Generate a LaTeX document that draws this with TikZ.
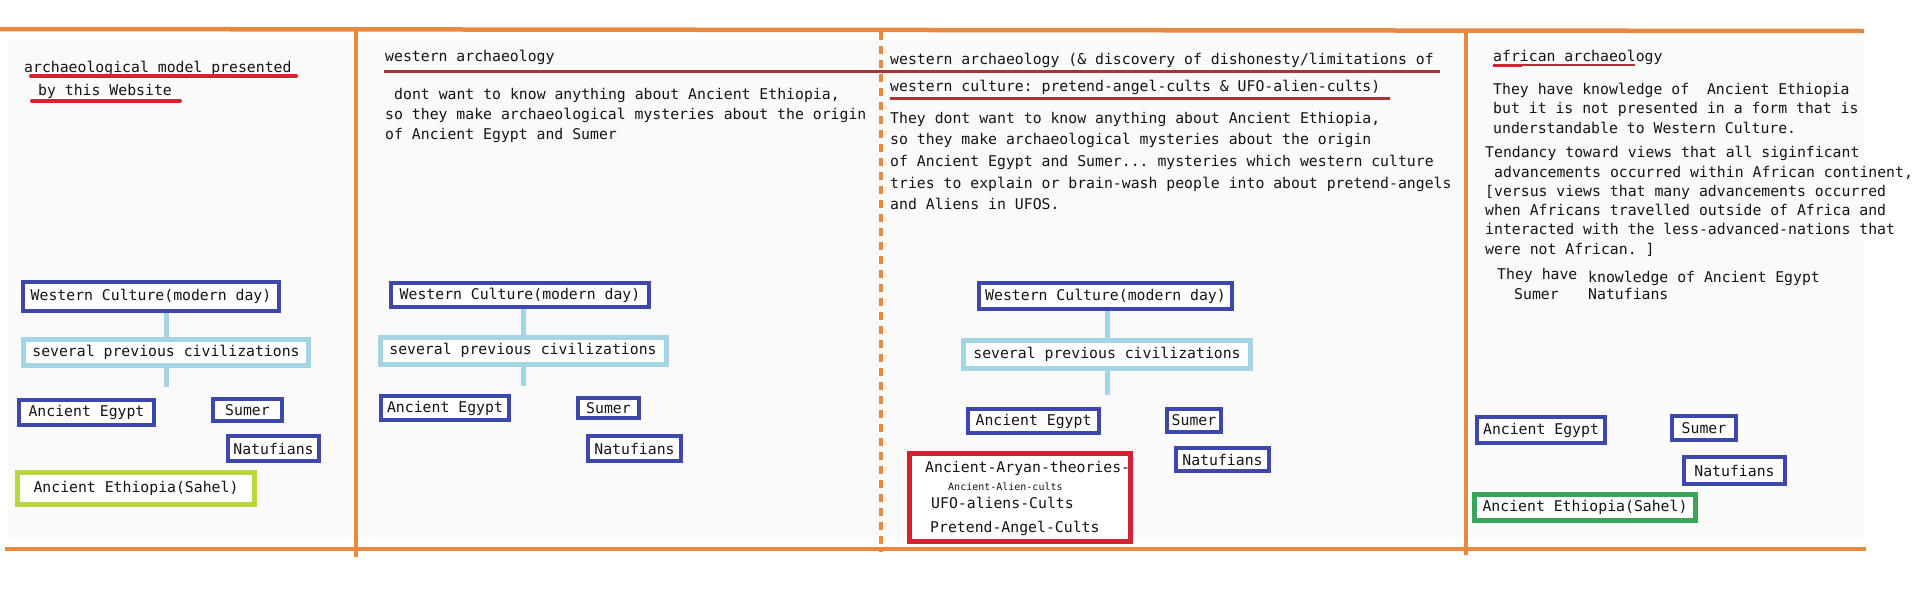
\documentclass[tikz,border=0pt]{standalone}
\usepackage{fontspec}
\setmonofont{DejaVu Sans Mono}
\newcommand\mtxt{\ttfamily\fontsize{14.8}{20}\selectfont}
\newcommand\mtiny{\ttfamily\fontsize{10}{12}\selectfont}
\definecolor{framec}{RGB}{232,137,64}
\definecolor{bluec}{RGB}{62,72,170}
\definecolor{lightb}{RGB}{165,213,229}
\definecolor{limec}{RGB}{182,216,62}
\definecolor{greenc}{RGB}{58,165,90}
\definecolor{redc}{RGB}{214,34,46}
\definecolor{darkred}{RGB}{170,50,55}
\definecolor{ink}{RGB}{20,20,20}
\definecolor{panel}{RGB}{250,250,250}
\tikzset{
  txt/.style={anchor=base west, inner sep=0pt, font=\mtxt, text=ink},
  tinytxt/.style={anchor=base west, inner sep=0pt, font=\mtiny, text=ink},
  box/.style={draw, line width=4pt, inner sep=0pt, font=\mtxt, text=ink, fill=white},
  bbox/.style={box, draw=bluec},
  lbbox/.style={box, draw=lightb, line width=5pt},
  limebox/.style={box, draw=limec, line width=5pt},
  greenbox/.style={box, draw=greenc, line width=5pt},
  redbox/.style={box, draw=redc, line width=5pt},
  conn/.style={draw=lightb, line width=5pt},
  frameline/.style={draw=framec, line width=4.5pt},
  uline/.style={draw=redc, line width=4pt, line cap=round},
  thinuline/.style={draw=darkred, line width=3pt},
}
\begin{document}
\begin{tikzpicture}[x=1pt,y=-1pt]
\useasboundingbox (0,0) rectangle (1919,595);
\fill[white] (0,0) rectangle (1919,595);
\fill[panel] (8,40) rectangle (1864,540);

% frame
\draw[frameline] (0,29) -- (1864,31);
\draw[frameline] (5,549) -- (1866,549);
\draw[frameline] (356,29) -- (356,557);
\draw[draw=framec, line width=3.5pt, dash pattern=on 8pt off 6pt] (881,32) -- (881,552);
\draw[frameline] (1466,31) -- (1466,555);

% ---------- column 1 ----------
\node[txt] (t1a) at (24,72) {archaeological model presented};
\node[txt] (t1b) at (38,95) {by this Website};
\draw[uline] (31,76) -- (296,76);
\draw[uline] (32,101) -- (180,101);

\node[bbox, minimum width=256, minimum height=29] (wc1) at (151,296.5) {Western Culture(modern day)};
\node[lbbox, minimum width=285, minimum height=26] (sev1) at (166,352) {several previous civilizations};
\node[bbox, minimum width=135, minimum height=25] (eg1) at (86.5,412.5) {Ancient Egypt};
\node[bbox, minimum width=69, minimum height=22] (su1) at (247.5,410) {Sumer};
\node[bbox, minimum width=91, minimum height=25] (na1) at (273.5,448.5) {Natufians};
\node[limebox, minimum width=237, minimum height=32] (et1) at (136,488.5) {Ancient Ethiopia(Sahel)};
\coordinate (st1) at (166,387);
\draw[conn] (sev1.north) -- (sev1.north |- wc1.south);
\draw[conn] (sev1.south) -- (st1);

% ---------- column 2 ----------
\node[txt] (h2) at (385,61) {western archaeology};
\draw[thinuline] (384,71) -- (1440,71);
\node[txt] (b2a) at (394,99) {dont want to know anything about Ancient Ethiopia,};
\node[txt] (b2b) at (385,119) {so they make archaeological mysteries about the origin};
\node[txt] (b2c) at (385,139) {of Ancient Egypt and Sumer};

\node[bbox, minimum width=258, minimum height=24] (wc2) at (520,295) {Western Culture(modern day)};
\node[lbbox, minimum width=286, minimum height=27] (sev2) at (523,350.5) {several previous civilizations};
\node[bbox, minimum width=128, minimum height=24] (eg2) at (445,408) {Ancient Egypt};
\node[bbox, minimum width=61, minimum height=20] (su2) at (608.5,408) {Sumer};
\node[bbox, minimum width=93, minimum height=25] (na2) at (634.5,448.5) {Natufians};
\coordinate (st2) at (523,386);
\draw[conn] (sev2.north) -- (sev2.north |- wc2.south);
\draw[conn] (sev2.south) -- (st2);

% ---------- column 3 ----------
\node[txt] (h3a) at (890,64) {western archaeology (\& discovery of dishonesty/limitations of};
\node[txt] (h3b) at (890,91) {western culture: pretend-angel-cults \& UFO-alien-cults)};
\draw[thinuline] (890,98) -- (1390,98);
\node[txt] (b3a) at (890,123) {They dont want to know anything about Ancient Ethiopia,};
\node[txt] (b3b) at (890,144) {so they make archaeological mysteries about the origin};
\node[txt] (b3c) at (890,166) {of Ancient Egypt and Sumer... mysteries which western culture};
\node[txt] (b3d) at (890,188) {tries to explain or brain-wash people into about pretend-angels};
\node[txt] (b3e) at (890,209) {and Aliens in UFOS.};

\node[bbox, minimum width=253, minimum height=26] (wc3) at (1105.5,296) {Western Culture(modern day)};
\node[lbbox, minimum width=287, minimum height=28] (sev3) at (1107,354) {several previous civilizations};
\node[bbox, minimum width=131, minimum height=24] (eg3) at (1033.5,421) {Ancient Egypt};
\node[bbox, minimum width=54, minimum height=23] (su3) at (1194,420.5) {Sumer};
\node[bbox, minimum width=93, minimum height=23] (na3) at (1222.5,459.5) {Natufians};
\node[redbox, minimum width=221, minimum height=88] (cults) at (1020,497.5) {};
\node[txt] (c1) at (925,472) {Ancient-Aryan-theories-};
\node[tinytxt] (c2) at (948,490) {Ancient-Alien-cults};
\node[txt] (c3) at (931,508) {UFO-aliens-Cults};
\node[txt] (c4) at (930,532) {Pretend-Angel-Cults};
\coordinate (st3) at (1107,395);
\draw[conn] (sev3.north) -- (sev3.north |- wc3.south);
\draw[conn] (sev3.south) -- (st3);

% ---------- column 4 ----------
\node[txt] (h4) at (1493,61) {african archaeology};
\draw[draw=darkred, line width=2pt] (1493,65) -- (1635,65);
\draw[draw=redc, line width=3pt] (1493,65) -- (1522,65);
\node[txt] (b4a) at (1493,94) {They have knowledge of\ \ Ancient Ethiopia};
\node[txt] (b4b) at (1493,113) {but it is not presented in a form that is};
\node[txt] (b4c) at (1493,133) {understandable to Western Culture.};
\node[txt] (b4d) at (1485,157) {Tendancy toward views that all siginficant};
\node[txt] (b4e) at (1494,177) {advancements occurred within African continent,};
\node[txt] (b4f) at (1485,196) {[versus views that many advancements occurred};
\node[txt] (b4g) at (1485,215) {when Africans travelled outside of Africa and};
\node[txt] (b4h) at (1485,234) {interacted with the less-advanced-nations that};
\node[txt] (b4i) at (1485,254) {were not African. ]};
\node[txt] (b4j) at (1497,279) {They have};
\node[txt] (b4k) at (1588,282) {knowledge of Ancient Egypt};
\node[txt] (b4l) at (1514,299) {Sumer};
\node[txt] (b4m) at (1588,299) {Natufians};

\node[bbox, minimum width=128, minimum height=26] (eg4) at (1541,430) {Ancient Egypt};
\node[bbox, minimum width=64, minimum height=24] (su4) at (1704,428) {Sumer};
\node[bbox, minimum width=101, minimum height=27] (na4) at (1734.5,470.5) {Natufians};
\node[greenbox, minimum width=221, minimum height=26] (et4) at (1585,507.5) {Ancient Ethiopia(Sahel)};
\end{tikzpicture}
\end{document}
